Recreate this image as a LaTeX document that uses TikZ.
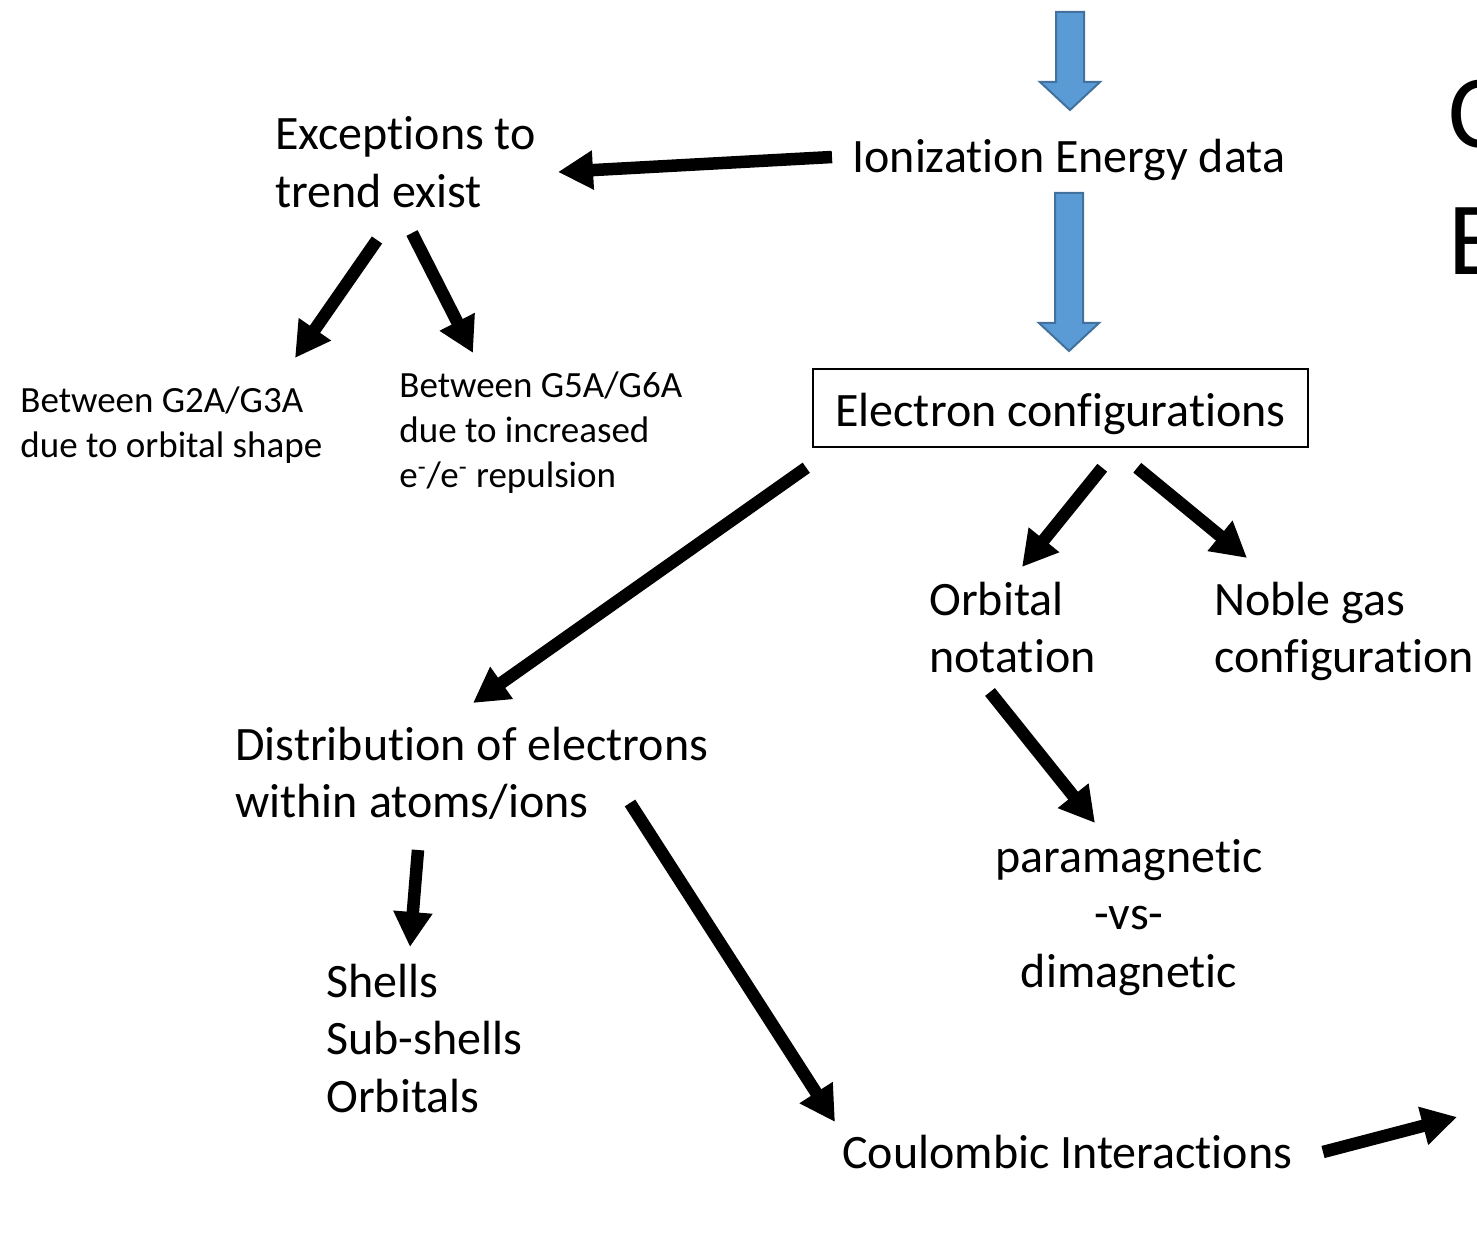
\documentclass[tikz,border=0pt]{standalone}
\usepackage{fontspec}
\setmainfont{Carlito}[Ligatures=NoCommon]
\usetikzlibrary{arrows.meta}

\definecolor{blockblue}{HTML}{5B9BD5}
\definecolor{blockedge}{HTML}{41719C}

\tikzset{
  txt/.style={inner sep=0pt, anchor=base west, align=left,
    font=\fontsize{24}{28.75}\selectfont},
  smalltxt/.style={txt, font=\fontsize{18.5}{22.5}\selectfont},
  bigarrow/.style={line width=6.25pt, -{Triangle[length=17.5pt,width=18.5pt]}},
  blockarrow/.style={fill=blockblue, draw=blockedge, line width=1pt, line join=miter}
}

\newcommand\downblock[2]{%
  \draw[blockarrow] #1 -- ++(28,0) -- ++(0,#2) -- ++(16,0) -- ++(-30,28)
    -- ++(-30,-28) -- ++(16,0) -- cycle;}

\begin{document}
\begin{tikzpicture}[x=0.5pt,y=-0.5pt]
      \useasboundingbox (0,0) rectangle (1477,1245);
      \clip (0,0) rectangle (1477,1245);

      % multi-line nodes sit on the baseline of their last line
      \node[txt] (ion) at (852,173) {Ionization Energy data};
      \node[txt] (exc) at (275,207.5) {Exceptions to\\trend exist};
      \node[smalltxt] (g23) at (20,458) {Between G2A/G3A\\due to orbital shape};
      \node[smalltxt] (g56) at (399,488)
        {Between G5A/G6A\\due to increased\\e\textsuperscript{-}/e\textsuperscript{-} repulsion};
      \node[draw, line width=0.75pt, anchor=base, minimum width=247.5pt,
        inner xsep=0pt, inner ysep=5pt, text height=24pt, text depth=5pt,
        font=\fontsize{24}{28.75}\selectfont] (econf) at (1060.5,427)
        {Electron configurations};
      \node[txt] (orb) at (929,672.5) {Orbital\\notation};
      \node[txt] (noble) at (1214,672.5) {Noble gas\\configuration};
      \node[txt] (dist) at (235,817.5) {Distribution of electrons\\within atoms/ions};
      \node[txt, anchor=base, align=center] (para) at (1129,987)
        {paramagnetic\\-vs-\\dimagnetic};
      \node[txt] (shells) at (326,1112) {Shells\\Sub-shells\\Orbitals};
      \node[txt] (coul) at (842,1168) {Coulombic Interactions};
      \node[txt, font=\fontsize{52}{63.5}\selectfont] (title) at (1448,275) {C\\E};
      \coordinate (out) at (1457,1117);

      % blue block arrows
      \downblock{([shift={(204,-161)}]ion.base west)}{70}
      \downblock{([shift={(203,20)}]ion.base west)}{130}

      \draw[bigarrow] ([shift={(-20,-16)}]ion.base west) -- ([shift={(283,-35.5)}]exc.base west);
      \draw[bigarrow] ([shift={(102,32.5)}]exc.base west) -- ([shift={(275,-100)}]g23.base west);
      \draw[bigarrow] ([shift={(137,25.5)}]exc.base west) -- ([shift={(74,-135)}]g56.base west);
      \draw[bigarrow] ([shift={(-6,20)}]econf.south west) -- ([shift={(238,-114.5)}]dist.base west);
      \draw[bigarrow] ([shift={(290,20)}]econf.south west) -- ([shift={(93,-105.5)}]orb.base west);
      \draw[bigarrow] ([shift={(325,20)}]econf.south west) -- ([shift={(33,-114.5)}]noble.base west);
      \draw[bigarrow] ([shift={(61,19.5)}]orb.base west) -- ([shift={(-34,-164)}]para.base);
      \draw[bigarrow] ([shift={(183,32.5)}]dist.base west) -- ([shift={(84,-165)}]shells.base west);
      \draw[bigarrow] ([shift={(395,-14.5)}]dist.base west) -- ([shift={(-7,-46)}]coul.base west);
      \draw[bigarrow] ([shift={(481,-16)}]coul.base west) -- (out);
\end{tikzpicture}
\end{document}
